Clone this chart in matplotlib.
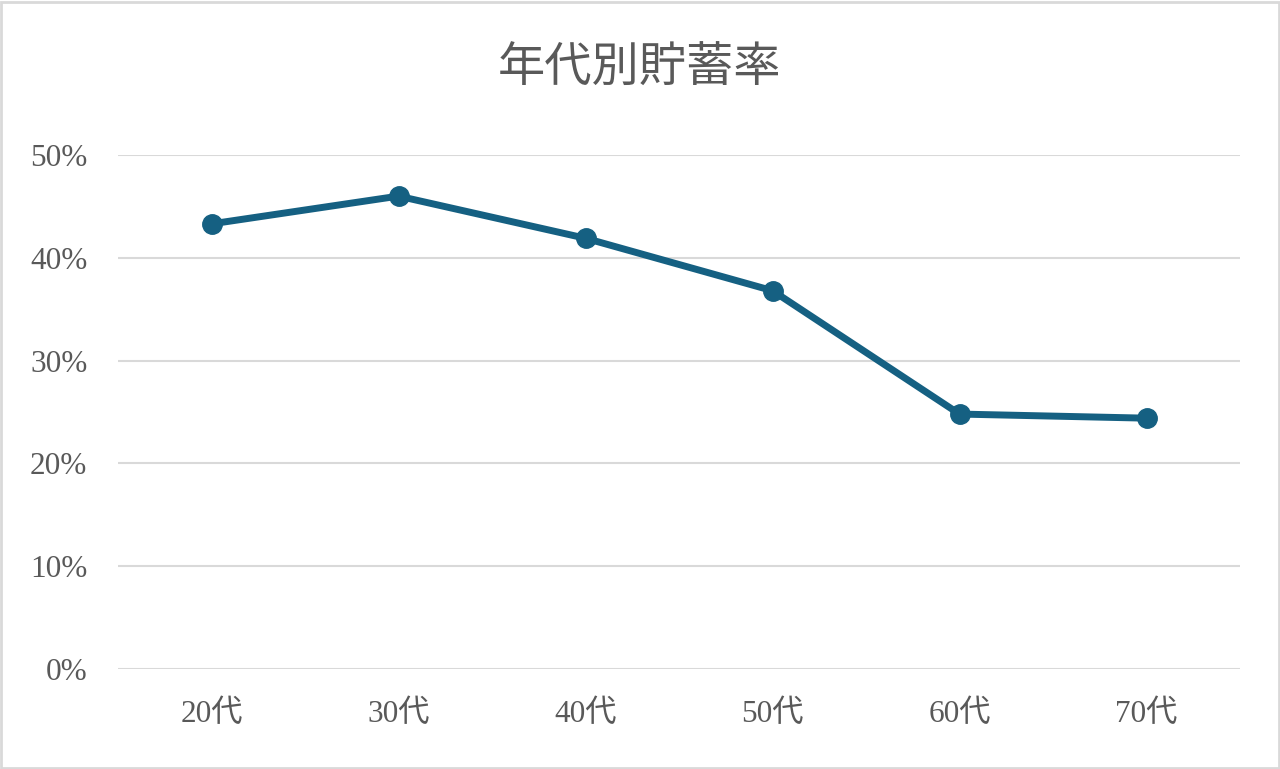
import matplotlib.pyplot as plt
from matplotlib.ticker import PercentFormatter
from matplotlib.patches import Rectangle

plt.rcParams['font.family'] = ['Liberation Serif', 'Noto Sans CJK JP', 'DejaVu Sans']

# 年代別貯蓄率 (Excel line chart)
ages = ['20代', '30代', '40代', '50代', '60代', '70代']
savings_rate = [0.433, 0.460, 0.419, 0.368, 0.248, 0.244]
y_ticks = [0, 0.1, 0.2, 0.3, 0.4, 0.5]

text_color = '#595959'
line_color = '#156082'

fig = plt.figure(figsize=(12.8, 7.69), dpi=100)
fig.patches.append(Rectangle((0.001, 0.001), 0.998, 0.997, transform=fig.transFigure,
                             fill=False, edgecolor='#d9d9d9', linewidth=2))

ax = fig.add_axes([118 / 1280, 1 - 669 / 769, 1122 / 1280, 514 / 769])
x = range(len(ages))
ax.plot(x, savings_rate, color=line_color, linewidth=5, marker='o',
        markersize=14, solid_capstyle='round', zorder=3)

ax.set_xlim(-0.5, len(ages) - 0.5)
ax.set_ylim(0, 0.5)
ax.set_yticks(y_ticks)
ax.yaxis.set_major_formatter(PercentFormatter(1.0, decimals=0))
ax.set_xticks(list(x))
ax.set_xticklabels(ages)
ax.grid(axis='y', color='#d9d9d9', linewidth=1.5)
ax.set_axisbelow(True)
for s in ax.spines.values():
    s.set_visible(False)
ax.tick_params(length=0, labelsize=22.5, colors=text_color)
ax.tick_params(axis='y', pad=22)
ax.tick_params(axis='x', pad=22)
for lbl in ax.get_yticklabels():
    lbl.set_horizontalalignment('right')

fig.text(640 / 1280, 1 - 70 / 769, '年代別貯蓄率', ha='center', va='center',
         fontsize=34, color=text_color)

fig.savefig('out.png', dpi=100)
